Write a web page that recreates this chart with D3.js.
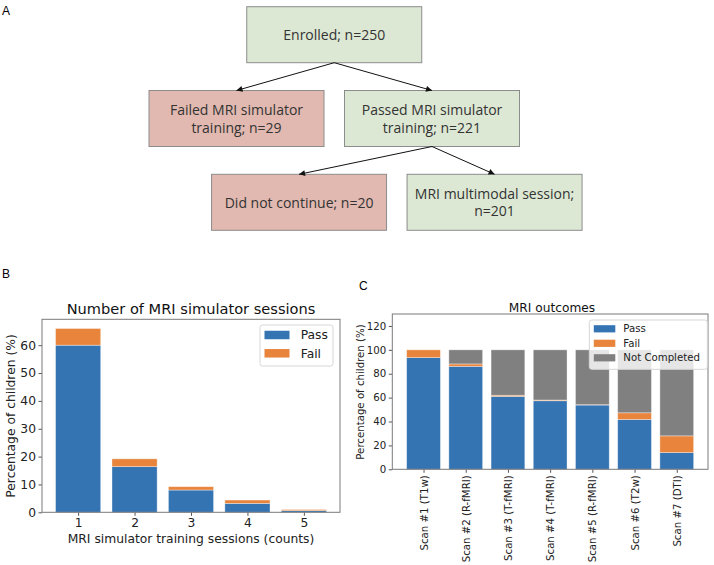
<!DOCTYPE html>
<html>
<head>
<meta charset="utf-8">
<script src="https://cdn.jsdelivr.net/npm/d3@7"></script>
<style>
  body { margin: 0; background: #fff; }
  svg { display: block; }
</style>
</head>
<body>
<div id="chart"></div>
<script>
// flowchart (panel A)
var flowLabels = [
  ['Enrolled; n=250'],
  ['Failed MRI simulator', 'training; n=29'],
  ['Passed MRI simulator', 'training; n=221'],
  ['Did not continue; n=20'],
  ['MRI multimodal session;', 'n=201']
];
var flowStatus = ['ok', 'fail', 'ok', 'fail', 'ok'];
var flowLinks = [[0, 1], [0, 2], [2, 3], [2, 4]];

// panel B
var sessionCounts = [1, 2, 3, 4, 5];
var sessionPass = [60.0, 16.4, 8.0, 3.2, 0.6];
var sessionFail = [6.0, 2.8, 1.2, 1.2, 0.4];
var sessionTicksY = [0, 10, 20, 30, 40, 50, 60];

// panel C
var scanNames = ['Scan #1 (T1w)', 'Scan #2 (R-fMRI)', 'Scan #3 (T-fMRI)', 'Scan #4 (T-fMRI)',
                 'Scan #5 (R-fMRI)', 'Scan #6 (T2w)', 'Scan #7 (DTI)'];
var scanPass = [93.5, 86.2, 61.0, 57.4, 53.8, 41.7, 14.0];
var scanFail = [6.5, 2.0, 1.0, 0.6, 0.3, 5.6, 14.0];
var scanNotCompleted = [0.0, 11.8, 38.0, 42.0, 45.9, 52.7, 72.0];
var scanTicksY = [0, 20, 40, 60, 80, 100, 120];

var colors = { pass: '#3474b3', fail: '#e8843c', nc: '#808080' };
var mpl = 'DejaVu Sans, sans-serif';

var svg = d3.select('#chart').append('svg')
    .attr('width', 714)
    .attr('height', 565);

// panel letters
svg.selectAll('.panel-label')
  .data([['A', 2, 15], ['B', 2, 278], ['C', 359, 290]])
  .enter()
  .append('text')
  .attr('class', 'panel-label')
  .attr('x', function (d) { return d[1]; })
  .attr('y', function (d) { return d[2]; })
  .style('font-family', 'Liberation Sans, sans-serif')
  .style('font-size', '12px')
  .text(function (d) { return d[0]; });

var drawFlow = function () {
  // level -> top of box, slot -> centre of box
  var levels = [0, 1, 1, 2, 2],
      slots = [0, -0.5, 0.5, -0.18, 0.82],
      boxW = 175,
      boxH = 56;

  var x = d3.scaleLinear().domain([-0.5, 0.5]).range([236.5, 432]);
  var y = d3.scaleLinear().domain([0, 2]).range([6.7, 174.3]);

  var nodes = flowLabels.map(function (lines, i) {
    return { lines: lines, status: flowStatus[i], cx: x(slots[i]), top: y(levels[i]) };
  });

  var g = svg.append('g').attr('class', 'flow');

  g.append('defs').append('marker')
    .attr('id', 'head')
    .attr('viewBox', '0 0 10 10')
    .attr('refX', 10)
    .attr('refY', 5)
    .attr('markerUnits', 'userSpaceOnUse')
    .attr('markerWidth', 7)
    .attr('markerHeight', 6)
    .attr('orient', 'auto')
    .append('path')
    .attr('d', 'M0,0 L10,5 L0,10 z')
    .style('fill', '#111');

  var box = g.selectAll('.node')
    .data(nodes)
    .enter()
    .append('g')
    .attr('class', 'node');

  box.append('rect')
    .attr('x', function (d) { return d.cx - boxW / 2; })
    .attr('y', function (d) { return d.top; })
    .attr('width', boxW)
    .attr('height', boxH)
    .style('fill', function (d) { return d.status === 'ok' ? '#dde8d4' : '#e1b9b0'; })
    .style('stroke', '#8c8c8c')
    .style('stroke-width', 1);

  box.each(function (d) {
    var n = d.lines.length,
        mid = d.top + boxH / 2;
    d3.select(this).selectAll('text')
      .data(d.lines)
      .enter()
      .append('text')
      .attr('x', d.cx)
      .attr('y', function (t, i) { return n === 1 ? mid + 5.5 : mid - 3.5 + i * 17.5; })
      .attr('text-anchor', 'middle')
      .style('font-family', 'Open Sans, sans-serif')
      .style('font-size', '14px')
      .style('fill', '#333')
      .text(function (t) { return t; });
  });

  g.selectAll('.link')
    .data(flowLinks)
    .enter()
    .append('line')
    .attr('class', 'link')
    .attr('x1', function (d) { return nodes[d[0]].cx; })
    .attr('y1', function (d) { return nodes[d[0]].top + boxH; })
    .attr('x2', function (d) { return nodes[d[1]].cx; })
    .attr('y2', function (d) { return nodes[d[1]].top; })
    .style('stroke', '#111')
    .style('stroke-width', 1)
    .attr('marker-end', 'url(#head)');
}

var drawAxesFrame = function (g, x, y, xTicks, yTicks, fontSize) {
  var x0 = x.range()[0], x1 = x.range()[1],
      y0 = y.range()[0], y1 = y.range()[1];

  var yAxis = d3.axisLeft(y)
      .tickValues(yTicks)
      .tickSize(3.5)
      .tickPadding(2.5);
  g.append('g')
    .attr('class', 'axis')
    .attr('transform', 'translate(' + x0 + ',0)')
    .call(yAxis);

  var xAxis = d3.axisBottom(x)
      .tickValues(xTicks)
      .tickFormat(d3.format('d'))
      .tickSize(3.5)
      .tickPadding(2.5);
  g.append('g')
    .attr('class', 'axis x-axis')
    .attr('transform', 'translate(0,' + y0 + ')')
    .call(xAxis);

  g.selectAll('.axis .domain').remove();
  g.selectAll('.axis line').style('stroke', '#555');
  g.selectAll('.axis text')
    .style('font-family', mpl)
    .style('font-size', fontSize + 'px')
    .style('fill', '#222');

  g.append('rect')
    .attr('x', x0)
    .attr('y', y1)
    .attr('width', x1 - x0)
    .attr('height', y0 - y1)
    .style('fill', 'none')
    .style('stroke', '#7a7a7a')
    .style('stroke-width', 1);
}

var drawLegend = function (g, items, left, top, w, h, rowY, fontSize, patchW, patchH, textX) {
  g.append('rect')
    .attr('x', left)
    .attr('y', top)
    .attr('width', w)
    .attr('height', h)
    .attr('rx', 2.5)
    .style('fill', '#fff')
    .style('fill-opacity', 0.8)
    .style('stroke', '#d6d6d6');

  var row = g.selectAll('.legend-row')
    .data(items)
    .enter()
    .append('g')
    .attr('class', 'legend-row');

  row.append('rect')
    .attr('x', left + 4.5)
    .attr('y', function (d, i) { return rowY[i] - patchH / 2; })
    .attr('width', patchW)
    .attr('height', patchH)
    .style('fill', function (d) { return d[1]; });

  row.append('text')
    .attr('x', textX)
    .attr('y', function (d, i) { return rowY[i] + fontSize * 0.36; })
    .style('font-family', mpl)
    .style('font-size', fontSize + 'px')
    .style('fill', '#222')
    .text(function (d) { return d[0]; });
}

var drawSessions = function () {
  var g = svg.append('g').attr('class', 'panel-b');

  var x = d3.scaleLinear().domain([0.36, 5.64]).range([42, 340]);
  var y = d3.scaleLinear().domain([0, 69.3]).range([512.3, 319.3]);
  var bw = x(0.8) - x(0);

  var data = sessionCounts.map(function (c, i) {
    return { count: c, pass: sessionPass[i], fail: sessionFail[i] };
  });

  g.selectAll('.bar-pass')
    .data(data)
    .enter()
    .append('rect')
    .attr('class', 'bar-pass')
    .attr('x', function (d) { return x(d.count) - bw / 2; })
    .attr('y', function (d) { return y(d.pass); })
    .attr('width', bw)
    .attr('height', function (d) { return y(0) - y(d.pass); })
    .style('fill', colors.pass);

  g.selectAll('.bar-fail')
    .data(data)
    .enter()
    .append('rect')
    .attr('class', 'bar-fail')
    .attr('x', function (d) { return x(d.count) - bw / 2; })
    .attr('y', function (d) { return y(d.pass + d.fail); })
    .attr('width', bw)
    .attr('height', function (d) { return y(d.pass) - y(d.pass + d.fail); })
    .style('fill', colors.fail);

  g.selectAll('.bar-pass, .bar-fail')
    .style('stroke', '#fff')
    .style('stroke-opacity', 0.45)
    .style('stroke-width', 0.8);

  drawAxesFrame(g, x, y, sessionCounts, sessionTicksY, 12.3);

  g.append('text')
    .attr('x', 191)
    .attr('y', 314)
    .attr('text-anchor', 'middle')
    .style('font-family', mpl)
    .style('font-size', '14.6px')
    .style('fill', '#111')
    .text('Number of MRI simulator sessions');

  g.append('text')
    .attr('x', 191)
    .attr('y', 543)
    .attr('text-anchor', 'middle')
    .style('font-family', mpl)
    .style('font-size', '12.3px')
    .style('fill', '#222')
    .text('MRI simulator training sessions (counts)');

  g.append('text')
    .attr('transform', 'translate(15,416) rotate(-90)')
    .attr('text-anchor', 'middle')
    .style('font-family', mpl)
    .style('font-size', '12.3px')
    .style('fill', '#222')
    .text('Percentage of children (%)');

  drawLegend(g, [['Pass', colors.pass], ['Fail', colors.fail]],
             260, 325, 73, 41, [335, 353.3], 12.3, 25, 8.5, 300.7);
}

var drawScans = function () {
  var g = svg.append('g').attr('class', 'panel-c');

  var x = d3.scaleLinear().domain([-0.74, 6.74]).range([392.3, 708]);
  var y = d3.scaleLinear().domain([0, 130]).range([469.3, 314]);
  var bw = x(0.8) - x(0);

  var data = scanNames.map(function (name, i) {
    return { i: i, name: name, pass: scanPass[i], fail: scanFail[i], nc: scanNotCompleted[i] };
  });

  var stack = d3.stack().keys(['pass', 'fail', 'nc'])(data);

  g.selectAll('.layer')
    .data(stack)
    .enter()
    .append('g')
    .attr('class', 'layer')
    .style('fill', function (d) { return colors[d.key]; })
    .selectAll('rect')
    .data(function (d) { return d; })
    .enter()
    .append('rect')
    .attr('x', function (d) { return x(d.data.i) - bw / 2; })
    .attr('y', function (d) { return y(d[1]); })
    .attr('width', bw)
    .attr('height', function (d) { return y(d[0]) - y(d[1]); })
    .style('stroke', '#fff')
    .style('stroke-opacity', 0.45)
    .style('stroke-width', 0.8);

  drawAxesFrame(g, x, y, d3.range(scanNames.length), scanTicksY, 10.2);

  // rotated category labels
  g.selectAll('.x-axis .tick text')
    .text(function (d) { return scanNames[d]; })
    .attr('text-anchor', 'end')
    .attr('transform', 'rotate(-90)')
    .attr('x', -6)
    .attr('y', 0)
    .attr('dy', '0.35em');

  g.append('text')
    .attr('x', 552)
    .attr('y', 311.5)
    .attr('text-anchor', 'middle')
    .style('font-family', mpl)
    .style('font-size', '12.2px')
    .style('fill', '#111')
    .text('MRI outcomes');

  g.append('text')
    .attr('transform', 'translate(364,392) rotate(-90)')
    .attr('text-anchor', 'middle')
    .style('font-family', mpl)
    .style('font-size', '10.2px')
    .style('fill', '#222')
    .text('Percentage of children (%)');

  drawLegend(g, [['Pass', colors.pass], ['Fail', colors.fail], ['Not Completed', colors.nc]],
             589.3, 320, 118, 49.3, [328.8, 343.3, 357.8], 10.2, 21.5, 7.2, 623.3);
}

drawFlow();
drawSessions();
drawScans();
</script>
</body>
</html>
